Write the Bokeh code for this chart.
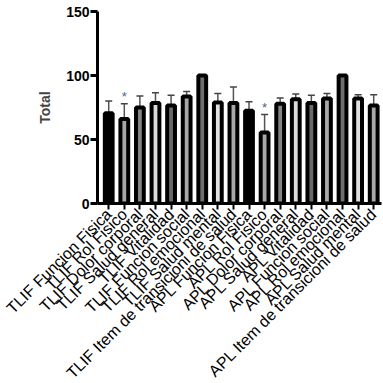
import math
from bokeh.plotting import figure
from bokeh.models import ColumnDataSource, FixedTicker, Range1d
from bokeh.core.properties import value
from bokeh.embed import file_html
from bokeh.resources import INLINE

categories = [
    "TLIF Funcion Fisica", "TLIF Rol Fisico", "TLIF Dolor corporal",
    "TLIF Salud general", "TLIF Vitalidad", "TLIF Funcion social",
    "TLIF Rol emocional", "TLIF Salud mental", "TLIF Item de transicioni de salud",
    "APL Funcion Fisica", "APL Rol Fisico", "APL Dolor corporal",
    "APL Salud general", "APL Vitalidad", "APL Funcion social",
    "APL Rol emocional", "APL Salud mental", "APL Item de transicioni de salud",
]
means = [70.5, 66, 75, 78.5, 76.5, 83.5, 100, 79, 78.5,
         72.5, 55.5, 78, 81.5, 78.5, 82, 100, 82, 76.5]
errors = [9.5, 12, 9, 8, 8, 4, 0, 7, 12.5,
          7, 14, 4.5, 4, 6, 4, 0, 3, 8.5]
signif = ["", "*", "", "", "", "", "", "", "",
          "", "*", "", "", "", "", "", "", ""]
fills = ["#000000", "#a8a8a8", "#858585", "#dcdcdc", "#6a6a6a", "#a8a8a8", "#6e6e6e", "#e2e2e2", "#a8a8a8",
         "#000000", "#a8a8a8", "#858585", "#dcdcdc", "#6a6a6a", "#a8a8a8", "#6e6e6e", "#e2e2e2", "#a8a8a8"]
y_ticks = [0, 50, 100, 150]

xs = list(range(len(categories)))
src = ColumnDataSource(dict(x=xs, top=means, fill=fills))
err_x = [x for x, e in zip(xs, errors) if e > 0]
err_lo = [m for m, e in zip(means, errors) if e > 0]
err_hi = [m + e for m, e in zip(means, errors) if e > 0]
star_x = [x for x, s in zip(xs, signif) if s]
star_y = [m + e + 5.5 for m, e, s in zip(means, errors, signif) if s]
star_t = [s for s in signif if s]

p = figure(width=383, height=391, output_backend="svg", toolbar_location=None,
           x_range=Range1d(-0.72, 17.5), y_range=Range1d(0, 150),
           min_border_left=97, min_border_top=11, min_border_right=2, min_border_bottom=188)
p.outline_line_color = None
p.grid.visible = False
p.background_fill_color = "white"

p.segment(x0=err_x, y0=err_lo, x1=err_x, y1=err_hi, line_color="#555555", line_width=1.5)
p.scatter(x=err_x, y=err_hi, marker="dash", size=7, line_color="#444444", line_width=1.5)
p.vbar(x="x", top="top", bottom=0, width=0.5, fill_color="fill", line_color="black",
       line_width=4, source=src)
p.text(x=star_x, y=star_y, text=star_t, text_align="center", text_baseline="middle",
       text_font=value("Liberation Sans"), text_font_size="13px", text_color="#4a6490")

ya = p.yaxis[0]
ya.ticker = FixedTicker(ticks=y_ticks)
ya.axis_line_width = 3
ya.major_tick_line_width = 3
ya.major_tick_out = 7
ya.major_tick_in = 0
ya.minor_tick_line_color = None
ya.major_label_text_font = "Liberation Sans"
ya.major_label_text_font_style = "bold"
ya.major_label_text_font_size = "14px"
ya.major_label_text_color = "black"
ya.major_label_standoff = 1
ya.axis_label = "Total"
ya.axis_label_text_font = "Liberation Sans"
ya.axis_label_text_font_style = "bold"
ya.axis_label_text_font_size = "14px"
ya.axis_label_standoff = 10

xa = p.xaxis[0]
xa.ticker = FixedTicker(ticks=xs)
xa.major_label_overrides = {i: c for i, c in enumerate(categories)}
xa.major_label_orientation = math.pi / 4
xa.axis_line_width = 3
xa.major_tick_line_width = 2
xa.major_tick_out = 6
xa.major_tick_in = 0
xa.minor_tick_line_color = None
xa.major_label_text_font = "Liberation Sans"
xa.major_label_text_font_size = "16px"
xa.major_label_text_color = "black"
xa.major_label_standoff = 2

open("out.html", "w").write(file_html(p, INLINE))
